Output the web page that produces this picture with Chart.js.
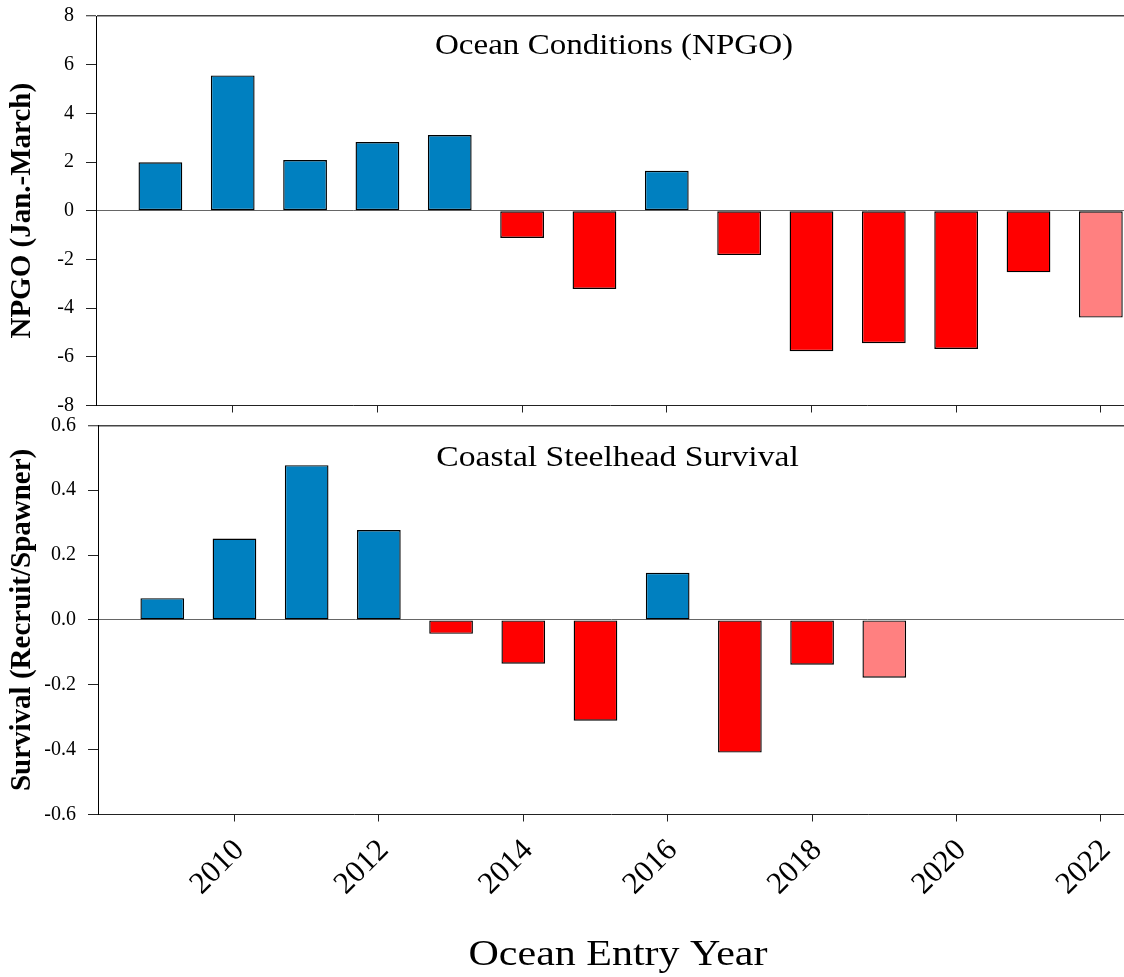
<!DOCTYPE html>
<html>
<head>
<meta charset="utf-8">
<title>Ocean Conditions (NPGO) and Coastal Steelhead Survival</title>
<script src="https://cdn.jsdelivr.net/npm/chart.js@4.4.1/dist/chart.umd.min.js"></script>
<style>
  html, body { margin: 0; padding: 0; background: #fff; width: 1124px; height: 977px; overflow: hidden; }
  #npgoBox { position: absolute; left: -2px; top: 0; width: 1126px; height: 420px; }
  #survivalBox { position: absolute; left: 0; top: 410px; width: 1124px; height: 567px; }
</style>
</head>
<body>
<div id="npgoBox"><canvas id="npgoChart" width="1126" height="420"></canvas></div>
<div id="survivalBox"><canvas id="survivalChart" width="1124" height="567"></canvas></div>
<script>
// Ocean entry years and the NPGO index (Jan.-March mean)
const npgoYears = [2009, 2010, 2011, 2012, 2013, 2014, 2015, 2016, 2017, 2018, 2019, 2020, 2021, 2022];
const npgoValues = [1.99, 5.56, 2.08, 2.82, 3.11, -1.12, -3.21, 1.64, -1.82, -5.77, -5.44, -5.68, -2.53, -4.39];
const npgoProvisional = [2022];

// Coastal steelhead survival anomaly (recruits per spawner)
const survivalYears = [2009, 2010, 2011, 2012, 2013, 2014, 2015, 2016, 2017, 2018, 2019];
const survivalValues = [0.067, 0.251, 0.477, 0.277, -0.043, -0.135, -0.311, 0.145, -0.409, -0.138, -0.178];
const survivalProvisional = [2019];

// Axis ticks
const yearTicks = [2010, 2012, 2014, 2016, 2018, 2020, 2022];
const npgoTicks = [-8, -6, -4, -2, 0, 2, 4, 6, 8];
const survivalTicks = [-0.6, -0.4, -0.2, 0.0, 0.2, 0.4, 0.6];

const BLUE = '#0080C0';
const RED = '#FF0000';
const PINK = '#FF8080';
const SERIF = '"Liberation Serif", "Times New Roman", serif';

function barColors(years, values, provisional) {
  return values.map((v, i) => provisional.includes(years[i]) ? PINK : (v >= 0 ? BLUE : RED));
}

// Titles drawn inside the plot, slightly widened like the SigmaPlot export
const wideText = {
  id: 'wideText',
  afterDraw(chart, args, opts) {
    const ctx = chart.ctx;
    (opts.items || []).forEach(t => {
      ctx.save();
      ctx.font = t.font;
      ctx.fillStyle = '#000';
      ctx.textAlign = 'center';
      ctx.textBaseline = 'alphabetic';
      ctx.translate(t.x, t.y);
      ctx.scale(t.sx, 1);
      ctx.fillText(t.text, 0, 0);
      ctx.restore();
    });
  }
};

function panel(canvasId, years, values, provisional, yTicks, cfg) {
  const yMin = yTicks[0], yMax = yTicks[yTicks.length - 1];
  return new Chart(document.getElementById(canvasId), {
    type: 'bar',
    data: {
      datasets: [{
        data: years.map((x, i) => ({ x: x, y: values[i] })),
        backgroundColor: barColors(years, values, provisional),
        borderColor: '#000',
        borderWidth: 1.4,
        borderSkipped: false,
        barPercentage: 0.605,
        categoryPercentage: 1
      }]
    },
    options: {
      responsive: false,
      animation: false,
      devicePixelRatio: 1,
      layout: { padding: { left: 0, right: 0, top: cfg.top, bottom: 0 } },
      plugins: {
        legend: { display: false },
        tooltip: { enabled: false },
        wideText: { items: cfg.texts }
      },
      scales: {
        x: {
          type: 'linear',
          min: 2008.11,
          max: 2022.32,
          offset: false,
          afterBuildTicks: s => { s.ticks = yearTicks.map(v => ({ value: v })); },
          afterFit: s => { s.height = cfg.xHeight; s.paddingLeft = 0; s.paddingRight = 0; },
          grid: { drawOnChartArea: false, offset: false, tickLength: 7, tickColor: '#222', tickWidth: 1 },
          border: { color: '#222', width: 1 },
          ticks: {
            display: cfg.showYears,
            autoSkip: false,
            minRotation: 45,
            maxRotation: 45,
            padding: 11,
            labelOffset: 5,
            color: '#000',
            font: { family: SERIF, size: 31 },
            callback: v => String(v)
          }
        },
        y: {
          min: yMin,
          max: yMax,
          afterBuildTicks: s => { s.ticks = yTicks.map(v => ({ value: v })); },
          afterFit: s => { s.width = 98; s.paddingTop = 0; s.paddingBottom = 0; },
          grid: {
            color: c => (c.tick && (Math.abs(c.tick.value) < 1e-9 || c.tick.value === yMax)) ? (c.tick.value === yMax ? '#444' : '#666') : 'rgba(0,0,0,0)',
            lineWidth: c => (c.tick && c.tick.value === yMax) ? 1.5 : 1,
            tickLength: 10,
            tickColor: '#222',
            tickWidth: 1
          },
          border: { color: '#000', width: 1 },
          ticks: {
            padding: 12,
            color: '#000',
            font: { family: SERIF, size: 20 },
            callback: cfg.tickFormat
          },
          title: {
            display: true,
            text: cfg.yTitle,
            color: '#000',
            font: { family: SERIF, size: 29, weight: 'bold' },
            padding: { top: cfg.titlePad, bottom: 0 }
          }
        }
      }
    },
    plugins: [wideText]
  });
}

panel('npgoChart', npgoYears, npgoValues, npgoProvisional, npgoTicks, {
  top: 16,
  xHeight: 14.5,
  showYears: false,
  tickFormat: v => String(v),
  yTitle: 'NPGO (Jan.-March)',
  titlePad: 7,
  texts: [
    { text: 'Ocean Conditions (NPGO)', x: 616, y: 53.5, font: '29px ' + SERIF, sx: 1.14 }
  ]
});

panel('survivalChart', survivalYears, survivalValues, survivalProvisional, survivalTicks, {
  top: 15.3,
  xHeight: 162.5,
  showYears: true,
  tickFormat: v => v.toFixed(1),
  yTitle: 'Survival (Recruit/Spawner)',
  titlePad: 5,
  texts: [
    { text: 'Coastal Steelhead Survival', x: 617.5, y: 56, font: '29px ' + SERIF, sx: 1.16 },
    { text: 'Ocean Entry Year', x: 618, y: 555, font: '35px ' + SERIF, sx: 1.2 }
  ]
});
</script>
</body>
</html>
